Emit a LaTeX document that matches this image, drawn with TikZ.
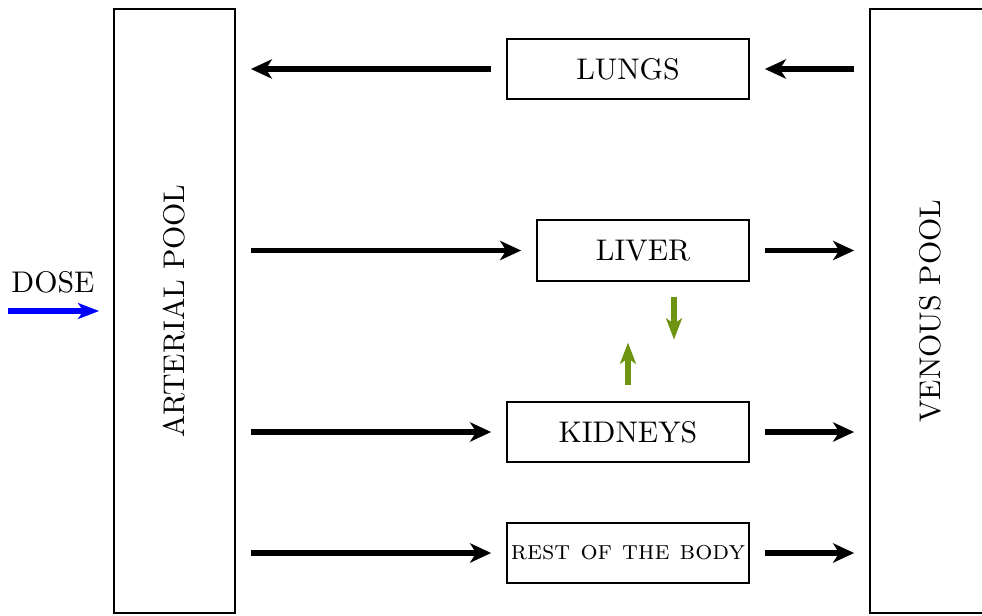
\documentclass[tikz,border=0pt]{standalone}
\usetikzlibrary{arrows.meta}
\definecolor{dosblue}{RGB}{0,0,255}
\definecolor{exgreen}{RGB}{110,148,18}
\newcommand{\biglbl}[1]{\scalebox{1.7}{\fontsize{10}{12}\selectfont #1}}
\newcommand{\sclbl}[1]{\scalebox{1.53}{\fontsize{10}{12}\selectfont\textsc{#1}}}
\tikzset{
  pool/.style={draw, line width=1.1pt, inner sep=0pt, minimum width=2.42cm, minimum height=12.08cm},
  organ/.style={draw, line width=1.1pt, inner sep=0pt, minimum height=1.2cm},
  flow/.style={line width=3.4pt, -{Stealth[length=12pt,width=11pt,inset=3.5pt]}, shorten <=8.5pt, shorten >=8.5pt},
  exch/.style={line width=3.2pt, exgreen, -{Stealth[length=12pt,width=9pt,inset=3pt]}},
  dosearr/.style={line width=3.2pt, dosblue, -{Stealth[length=12pt,width=9pt,inset=3pt]}}
}
\begin{document}
\begin{tikzpicture}[x=0.02cm,y=-0.02cm]
\useasboundingbox (0,0) rectangle (982,615);
\node[pool] (art) at (174.5,311) {\rotatebox{90}{\biglbl{ARTERIAL POOL}}};
\node[pool] (ven) at (930.5,311) {\rotatebox{90}{\biglbl{VENOUS POOL}}};
\node[organ, minimum width=4.84cm] (lungs) at (628,69) {\biglbl{LUNGS}};
\node[organ, minimum width=4.24cm, minimum height=1.22cm] (liver) at (643,250.5) {\biglbl{LIVER}};
\node[organ, minimum width=4.84cm] (kid) at (628,432) {\biglbl{KIDNEYS}};
\node[organ, minimum width=4.84cm] (rest) at (628,553) {\sclbl{rest of the body}};
\node (dose) at (53,282) {\biglbl{DOSE}};
\coordinate (dstart) at (8,311);
% flows
\draw[flow] (lungs.west) -- (lungs.west -| art.east);
\draw[flow] (ven.west |- lungs.east) -- (lungs.east);
\draw[flow] (art.east |- liver.west) -- (liver.west);
\draw[flow] (liver.east) -- (liver.east -| ven.west);
\draw[flow] (art.east |- kid.west) -- (kid.west);
\draw[flow] (kid.east) -- (kid.east -| ven.west);
\draw[flow] (art.east |- rest.west) -- (rest.west);
\draw[flow] (rest.east) -- (rest.east -| ven.west);
% dose
\draw[dosearr, shorten >=7.9pt] (dstart) -- (dstart -| art.west);
% exchange liver <-> kidneys
\draw[exch, shorten <=8.5pt, shorten >=35pt] ([xshift=0.62cm]liver.south) -- ([xshift=0.62cm]liver.south |- kid.north);
\draw[exch, shorten <=9pt, shorten >=34.5pt] (kid.north) -- (kid.north |- liver.south);
\end{tikzpicture}
\end{document}
